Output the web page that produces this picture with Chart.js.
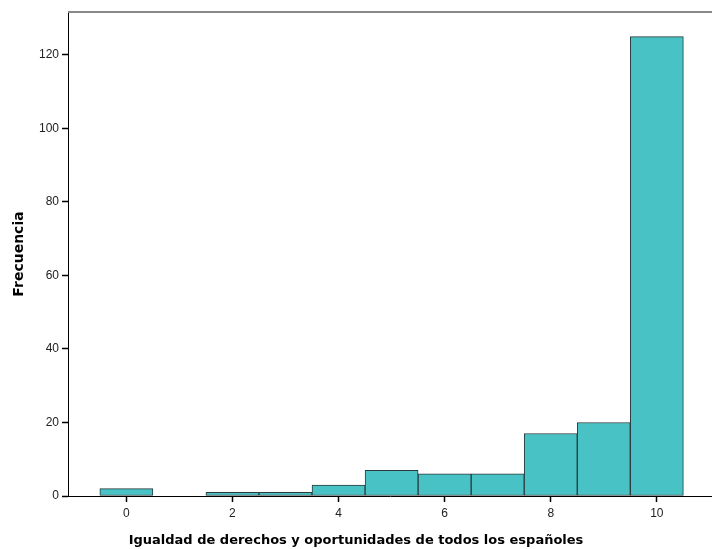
<!DOCTYPE html>
<html>
<head>
<meta charset="utf-8">
<script src="https://cdn.jsdelivr.net/npm/chart.js@4"></script>
<style>
  html, body { margin: 0; padding: 0; background: #fff; }
  #wrap { width: 712px; height: 549px; }
</style>
</head>
<body>
<div id="wrap"><canvas id="myChart" width="712" height="549"></canvas></div>
<script>
// puntuaciones 0..10 y su frecuencia
const valores = [0, 1, 2, 3, 4, 5, 6, 7, 8, 9, 10];
const frecuencias = [2, 0, 1, 1, 3, 7, 6, 6, 17, 20, 125];
const ticksX = [0, 2, 4, 6, 8, 10];
const ticksY = [0, 20, 40, 60, 80, 100, 120];

const tickFont = { family: 'Arial, "Liberation Sans", sans-serif', size: 12 };

let puntos = [];
for (let i = 0; i < valores.length; i++) {
    puntos.push({ x: valores[i], y: frecuencias[i] });
}

// linea gris arriba del area del grafico
const bordeSuperior = {
    id: 'bordeSuperior',
    afterDraw(chart) {
        const { ctx, chartArea } = chart;
        ctx.save();
        ctx.strokeStyle = '#888';
        ctx.lineWidth = 2;
        ctx.beginPath();
        ctx.moveTo(chartArea.left, chartArea.top);
        ctx.lineTo(chart.width, chartArea.top);
        ctx.stroke();
        ctx.restore();
    }
};

const ctx = document.getElementById('myChart');
const myChart = new Chart(ctx, {
    type: 'bar',
    data: {
        datasets: [{
            label: 'Frecuencia',
            data: puntos,
            backgroundColor: '#48C2C5',
            borderColor: '#2b3a3b',
            borderWidth: 1,
            borderSkipped: false,
            barPercentage: 1,
            categoryPercentage: 1
        }]
    },
    options: {
        responsive: false,
        animation: false,
        layout: { padding: { top: 12, right: 0, left: 0, bottom: 0 } },
        plugins: {
            legend: { display: false },
            tooltip: { enabled: false },
            title: {
                display: true,
                position: 'bottom',
                text: 'Igualdad de derechos y oportunidades de todos los españoles',
                color: '#000',
                font: { family: '"DejaVu Sans", Verdana, sans-serif', size: 13, weight: 'bold', lineHeight: 1.2 },
                padding: { top: 2, bottom: 1 }
            }
        },
        scales: {
            x: {
                type: 'linear',
                offset: false,
                min: -1.1,
                max: 11.04,
                afterBuildTicks: (scale) => { scale.ticks = ticksX.map(v => ({ value: v })); },
                afterFit: (scale) => { scale.height = 34.4; },
                grid: { display: true, offset: false, drawOnChartArea: false, drawTicks: true, tickLength: 6, tickColor: '#000', tickWidth: 1.5 },
                border: { color: '#000', width: 1 },
                ticks: { color: '#222', font: tickFont, padding: 4, maxRotation: 0 }
            },
            y: {
                min: 0,
                max: 131.7,
                afterBuildTicks: (scale) => { scale.ticks = ticksY.map(v => ({ value: v })); },
                afterFit: (scale) => { scale.width = 68; },
                grid: { display: true, drawOnChartArea: false, drawTicks: true, tickLength: 6, tickColor: '#000', tickWidth: 1.5 },
                border: { color: '#000', width: 1 },
                ticks: { color: '#222', font: tickFont, padding: 3 },
                title: {
                    display: true,
                    text: 'Frecuencia',
                    color: '#000',
                    font: { family: '"DejaVu Sans", Verdana, sans-serif', size: 14, weight: 'bold' },
                    padding: { top: 11, bottom: 0 }
                }
            }
        }
    },
    plugins: [bordeSuperior]
});
</script>
</body>
</html>
